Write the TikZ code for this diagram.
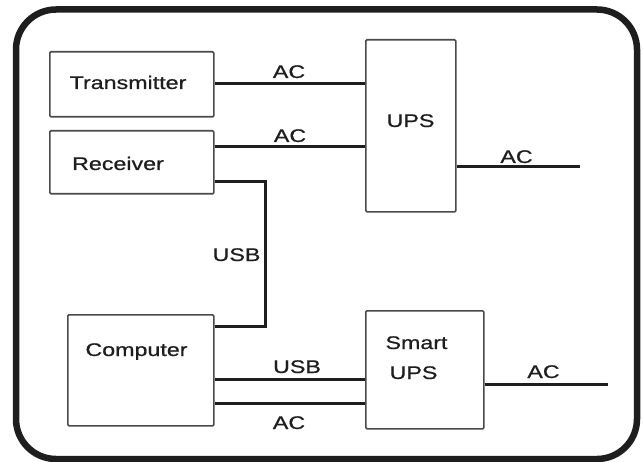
\documentclass[tikz,border=0pt]{standalone}
\usepackage{fontspec}
\setmainfont{Liberation Sans}
\newfontfamily\lblfont{Liberation Sans}[FakeBold=0.6]
\newcommand\sx[1]{\scalebox{1.27}[1]{#1}}
\definecolor{boxgray}{HTML}{4A4A4A}
\definecolor{inkc}{HTML}{1E1E1E}
\begin{document}
\begin{tikzpicture}[x=1pt,y=-1pt,
  box/.style={draw=boxgray, line width=1.6pt, rounded corners=1.2pt, inner sep=0pt, anchor=north west},
  wire/.style={line width=3pt, draw=inkc},
  lbl/.style={inner sep=0pt, anchor=base, font=\lblfont\fontsize{18.3}{20}\selectfont, text=inkc}]
\useasboundingbox (0,0) rectangle (644,462);
% frame
\draw[line width=6.5pt, draw=inkc, rounded corners=40pt] (16,9.5) rectangle (637,459);
% boxes
\node[box, minimum width=164pt, minimum height=65pt] (tx) at (49,51) {};
\node[box, minimum width=164pt, minimum height=63pt] (rx) at (49,130) {};
\node[box, minimum width=90pt, minimum height=172pt] (ups) at (365,39) {};
\node[box, minimum width=146pt, minimum height=111pt] (pc) at (67,314) {};
\node[box, minimum width=118pt, minimum height=118pt] (sups) at (365,310) {};
% texts
\node[lbl] (ttx) at (128,89) {\sx{Transmitter}};
\node[lbl] (trx) at (118,170) {\sx{Receiver}};
\node[lbl] (tups) at (410.5,127) {\sx{UPS}};
\node[lbl] (tpc) at (136.5,356) {\sx{Computer}};
\node[lbl] (tsm) at (416.5,349) {\sx{Smart}};
\node[lbl] (tsu) at (413.5,379) {\sx{UPS}};
\node[lbl] (lac1) at (289,78) {\sx{AC}};
\node[lbl] (lac2) at (290,142) {\sx{AC}};
\node[lbl] (lac3) at (516.5,163) {\sx{AC}};
\node[lbl] (lusb1) at (236.5,261) {\sx{USB}};
\node[lbl] (lusb2) at (297,373) {\sx{USB}};
\node[lbl] (lac4) at (289,429) {\sx{AC}};
\node[lbl] (lac5) at (543.5,378) {\sx{AC}};
% free ends
\coordinate (upsout) at (580,167);
\coordinate (supsout) at (608,384);
\coordinate (bend1) at (265,182);
\coordinate (bend2) at (265,326);
% wires
\draw[wire] (tx.east |- 0,84) -- (ups.west |- 0,84);
\draw[wire] (rx.east |- 0,147) -- (ups.west |- 0,147);
\draw[wire] (ups.east |- upsout) -- (upsout);
\draw[wire] (rx.east |- bend1) -- (bend1) -- (bend2) -- (pc.east |- bend2);
\draw[wire] (pc.east |- 0,379) -- (sups.west |- 0,379);
\draw[wire] (pc.east |- 0,403) -- (sups.west |- 0,403);
\draw[wire] (sups.east |- supsout) -- (supsout);
\end{tikzpicture}
\end{document}
